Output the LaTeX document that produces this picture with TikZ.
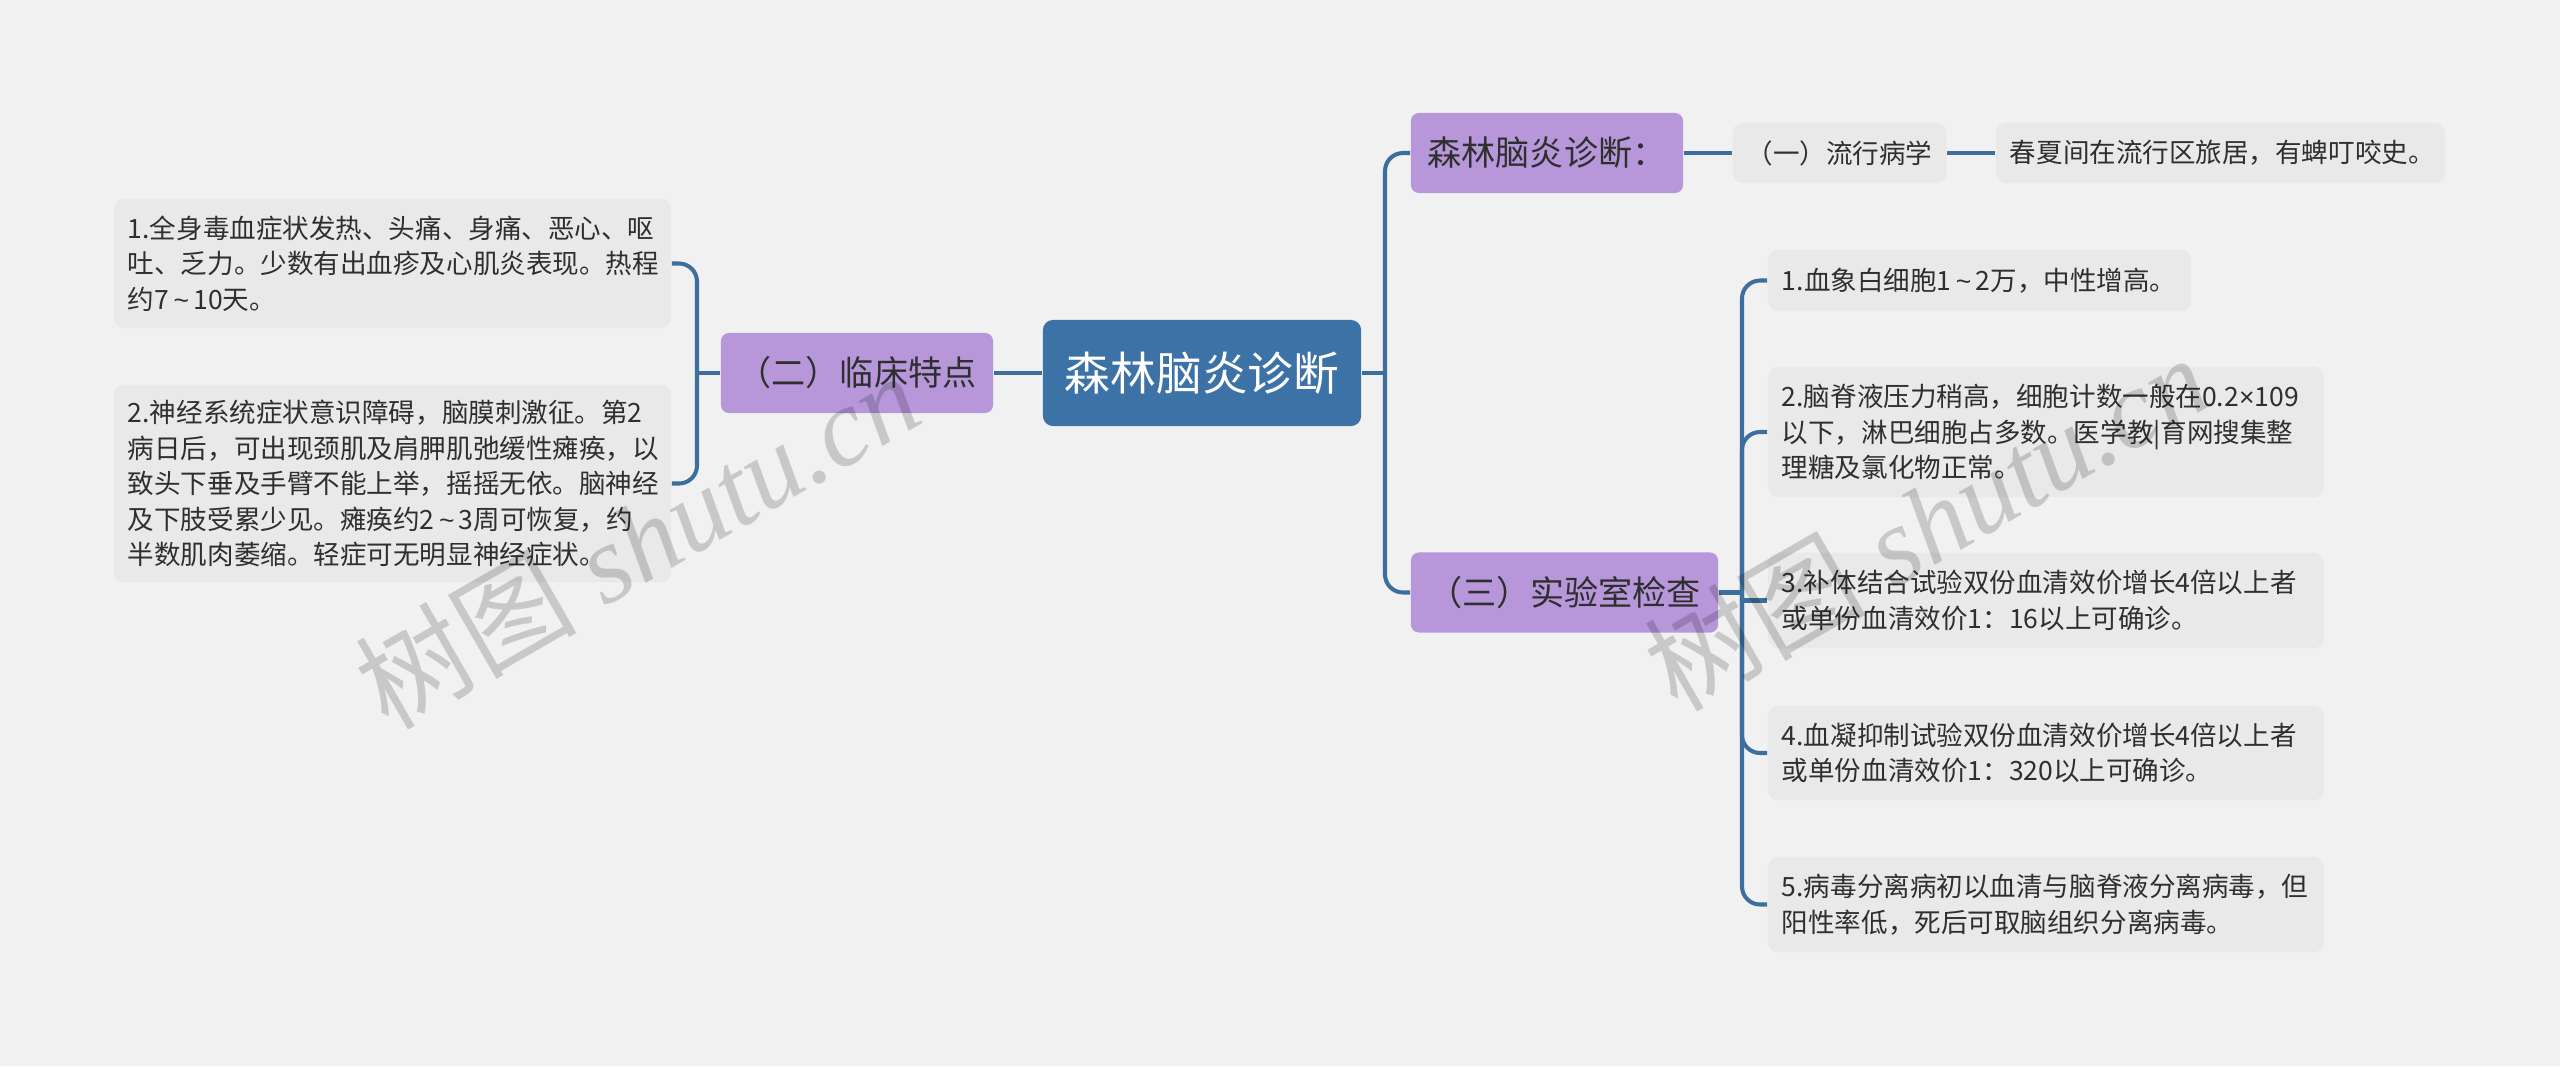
\documentclass[tikz,border=0pt]{standalone}
\usepackage{fontspec}
\usepackage{xcolor}
\setmainfont{Noto Sans CJK SC}
\newfontfamily\wmfont{Liberation Serif}
\newfontfamily\numfont{Liberation Sans}
\newcommand{\tld}{\,{\numfont\string~}\,}
\newcommand{\tms}{{\numfont ×}}
\definecolor{bgcol}{HTML}{F1F1F1}
\definecolor{rootcol}{HTML}{3D72A6}
\definecolor{seccol}{HTML}{B797DA}
\definecolor{leafcol}{HTML}{E9E9E9}
\definecolor{linecol}{HTML}{3C6E9E}
\definecolor{txtcol}{HTML}{2F2F2F}
\tikzset{
  rootbox/.style={rectangle,rounded corners=0.1cm,fill=rootcol,text=white,font=\fontsize{13}{15}\selectfont,minimum width=3.18cm,minimum height=1.06cm,inner sep=0pt},
  secbox/.style={rectangle,rounded corners=0.08cm,fill=seccol,text=txtcol,font=\fontsize{9.7}{11}\selectfont,minimum height=0.8cm,inner sep=0pt},
  leafbox/.style={rectangle,rounded corners=0.1cm,fill=leafcol,text=txtcol,font=\fontsize{7.55}{10.1}\selectfont,align=left,inner xsep=0.14cm,inner ysep=0pt},
  link/.style={draw=linecol,line width=1.15pt,rounded corners=0.18cm},
  wmark/.style={text=black,opacity=0.17,rotate=30,inner sep=0pt}
}

\begin{document}
\begin{tikzpicture}[x=0.01cm,y=-0.01cm]
  \useasboundingbox[fill=bgcol] (0,0) rectangle (2560,1066);
  % centre and second level
  \node[rootbox] (root) at (1202,373) {森林脑炎诊断};
  \node[secbox,minimum width=2.72cm] (diag) at (1547,153) {森林脑炎诊断：};
  \node[secbox,minimum width=3.07cm] (lab) at (1564.5,592.5) {（三）实验室检查};
  \node[secbox,minimum width=2.72cm] (clin) at (857,373) {（二）临床特点};
  % right side, top row
  \node[leafbox,minimum width=2.11cm,minimum height=0.6cm] (epi) at (1839.5,153) {（一）流行病学};
  \node[leafbox,text width=4.21cm,minimum height=0.6cm] (epitxt) at (2220.5,153) {春夏间在流行区旅居，有蜱叮咬史。};
  % right side, lab results
  \node[leafbox,text width=3.95cm,minimum height=0.61cm] (labA) at (1979.5,280.5) {1.血象白细胞1\tld 2万，中性增高。};
  \node[leafbox,text width=5.28cm,minimum height=1.3cm] (labB) at (2046,432) {2.脑脊液压力稍高，细胞计数一般在0.2\tms 109\\以下，淋巴细胞占多数。医学教|育网搜集整\\理糖及氯化物正常。};
  \node[leafbox,text width=5.28cm,minimum height=0.95cm] (labC) at (2046,600.5) {3.补体结合试验双份血清效价增长4倍以上者\\或单份血清效价1：16以上可确诊。};
  \node[leafbox,text width=5.28cm,minimum height=0.94cm] (labD) at (2046,753) {4.血凝抑制试验双份血清效价增长4倍以上者\\或单份血清效价1：320以上可确诊。};
  \node[leafbox,text width=5.28cm,minimum height=0.95cm] (labE) at (2046,904.5) {5.病毒分离病初以血清与脑脊液分离病毒，但\\阳性率低，死后可取脑组织分离病毒。};
  % left side
  \node[leafbox,text width=5.29cm,minimum height=1.29cm] (clinA) at (392.5,263.5) {1.全身毒血症状发热、头痛、身痛、恶心、呕\\吐、乏力。少数有出血疹及心肌炎表现。热程\\约7\tld 10天。};
  \node[leafbox,text width=5.29cm,minimum height=1.97cm] (clinB) at (392.5,483.5) {2.神经系统症状意识障碍，脑膜刺激征。第2\\病日后，可出现颈肌及肩胛肌弛缓性瘫痪，以\\致头下垂及手臂不能上举，摇摇无依。脑神经\\及下肢受累少见。瘫痪约2\tld 3周可恢复，约\\半数肌肉萎缩。轻症可无明显神经症状。};
  % joints of the branches
  \coordinate (jr) at (1385,373);
  \coordinate (jl) at (697,373);
  \coordinate (jb) at (1742,592.5);
  \draw[link] (root.west) -- (clin.east);
  \draw[link] (root.east) -- (jr);
  \draw[link] (jr) |- (diag.west);
  \draw[link] (jr) |- (lab.west);
  \draw[link] (diag.east) -- (epi.west);
  \draw[link] (epi.east) -- (epitxt.west);
  \draw[link] (clin.west) -- (jl);
  \draw[link] (jl) |- (clinA.east);
  \draw[link] (jl) |- (clinB.east);
  \draw[link] (lab.east) -- (jb);
  \foreach \n in {labA,labB,labD,labE}
    \draw[link] (jb) |- (\n.west);
  \draw[link] (labC.west) -- (labC.west -| jb);
  % watermarks
  \node[wmark] (wmA) at (637,540) {\fontsize{31.5}{32}\selectfont 树图\wmfont\itshape\ shutu.cn};
  \node[wmark] (wmB) at (1926,522) {\fontsize{31.5}{32}\selectfont 树图\wmfont\itshape\ shutu.cn};
\end{tikzpicture}
\end{document}
